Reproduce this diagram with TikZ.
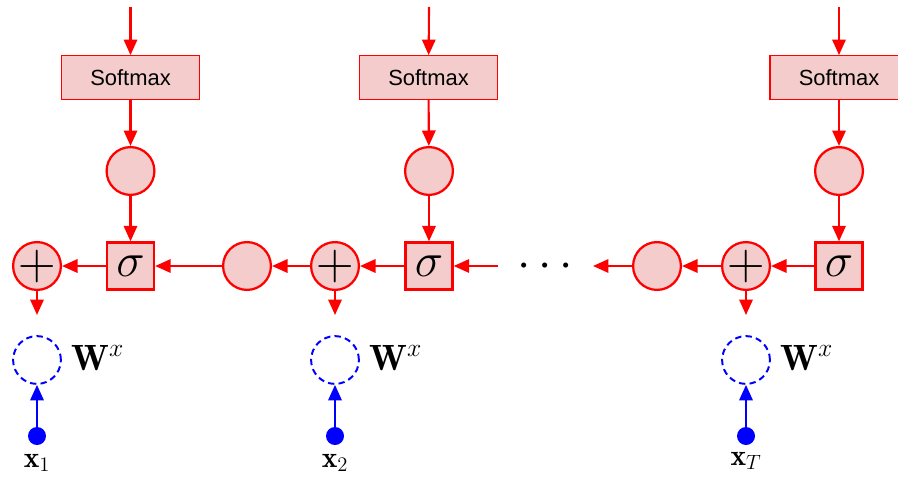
\RequirePackage{fix-cm}
\documentclass[tikz,border=0pt]{standalone}
\usepackage{fontspec}
\newfontfamily\arialfont{Liberation Sans}
\usetikzlibrary{arrows.meta}

\definecolor{cellfill}{RGB}{244,204,204}
\definecolor{cellred}{RGB}{255,0,0}
\definecolor{inblue}{RGB}{0,0,255}
\tikzstyle{softmax}=[draw=cellred, line width=0.9pt, fill=cellfill, rectangle, minimum width=98pt, minimum height=31pt, font=\arialfont\fontsize{15.6}{18}\selectfont]
\tikzstyle{unit}=[draw=cellred, line width=1.6pt, fill=cellfill, circle, minimum size=34pt, inner sep=0pt, font=\fontsize{37}{40}\selectfont]
\tikzstyle{gate}=[draw=cellred, line width=1.6pt, fill=cellfill, rectangle, minimum size=33.5pt, inner sep=0pt, font=\fontsize{34}{38}\selectfont]
\tikzstyle{weight}=[draw=inblue, line width=1.4pt, dash pattern=on 4.5pt off 3pt, circle, minimum size=34pt, inner sep=0pt]
\tikzstyle{input}=[fill=inblue, circle, minimum size=12.8pt, inner sep=0pt]
\tikzstyle{flow}=[draw=cellred, line width=1.5pt, -{Triangle[length=11pt,width=9.5pt]}]
\tikzstyle{feed}=[draw=inblue, line width=1.5pt, -{Triangle[length=11pt,width=9.5pt]}]
\tikzstyle{wlabel}=[anchor=base west, inner sep=0pt, font=\fontsize{26}{30}\selectfont]
\tikzstyle{xlabel}=[anchor=base, inner sep=0pt, font=\fontsize{21}{25}\selectfont]
\newcommand{\addsign}{\makebox[0pt]{$+$}}

\begin{document}
\begin{tikzpicture}[x=0.025cm, y=-0.025cm]
  \useasboundingbox (0,0) rectangle (898,479);

  % first step
  \coordinate (T1) at (130.5,7);
  \node[softmax] (S1) at (130.5,77.5) {Softmax};
  \node[unit] (C1) at (130.5,171) {};
  \node[gate] (G1) at (130.5,266) {$\sigma$};
  \node[unit] (P1) at (37,266) {\addsign};
  \coordinate (B1) at (37,315);
  \node[weight] (D1) at (37,360) {};
  \node[input] (X1) at (37,436) {};
  \path (T1) edge[flow] (S1);
  \path (S1) edge[flow] (C1);
  \path (C1) edge[flow] (G1);
  \path (G1) edge[flow] (P1);
  \path (P1) edge[flow] (B1);
  \path (X1) edge[feed] (D1);

  \node[unit] (E1) at (247,266) {};
  \path (E1) edge[flow] (G1);

  % second step
  \coordinate (T2) at (429,7);
  \node[softmax] (S2) at (428.5,77.5) {Softmax};
  \node[unit] (C2) at (429,171) {};
  \node[gate] (G2) at (429,266) {$\sigma$};
  \node[unit] (P2) at (335,266) {\addsign};
  \coordinate (B2) at (335,315);
  \node[weight] (D2) at (335,360) {};
  \node[input] (X2) at (335,436) {};
  \coordinate (R2) at (498,266);
  \path (T2) edge[flow] (S2);
  \path (S2) edge[flow] (C2);
  \path (C2) edge[flow] (G2);
  \path (G2) edge[flow] (P2);
  \path (P2) edge[flow] (E1);
  \path (P2) edge[flow] (B2);
  \path (R2) edge[flow] (G2);
  \path (X2) edge[feed] (D2);

  \node (M) at (545,267) {\fontsize{34}{38}\selectfont$\cdotp\cdotp\cdotp$};

  % last step
  \coordinate (L3) at (593,266);
  \node[unit] (E2) at (657,266) {};
  \path (E2) edge[flow] (L3);
  \coordinate (T3) at (839,7);
  \node[softmax] (S3) at (839,77.5) {Softmax};
  \node[unit] (C3) at (839,171) {};
  \node[gate] (G3) at (839,266) {$\sigma$};
  \node[unit] (P3) at (746,266) {\addsign};
  \coordinate (B3) at (746,315);
  \node[weight] (D3) at (746,360) {};
  \node[input] (X3) at (746,436) {};
  \path (T3) edge[flow] (S3);
  \path (S3) edge[flow] (C3);
  \path (C3) edge[flow] (G3);
  \path (G3) edge[flow] (P3);
  \path (P3) edge[flow] (E2);
  \path (P3) edge[flow] (B3);
  \path (X3) edge[feed] (D3);

  % labels
  \node[wlabel] (W1) at (71,370) {$\mathbf{W}^x$};
  \node[wlabel] (W2) at (369,370) {$\mathbf{W}^x$};
  \node[wlabel] (W3) at (780,370) {$\mathbf{W}^x$};
  \node[xlabel] (N1) at (37,467) {$\mathbf{x}_1$};
  \node[xlabel] (N2) at (335,467) {$\mathbf{x}_2$};
  \node[xlabel] (NT) at (746,465) {$\mathbf{x}_T$};
\end{tikzpicture}
\end{document}
